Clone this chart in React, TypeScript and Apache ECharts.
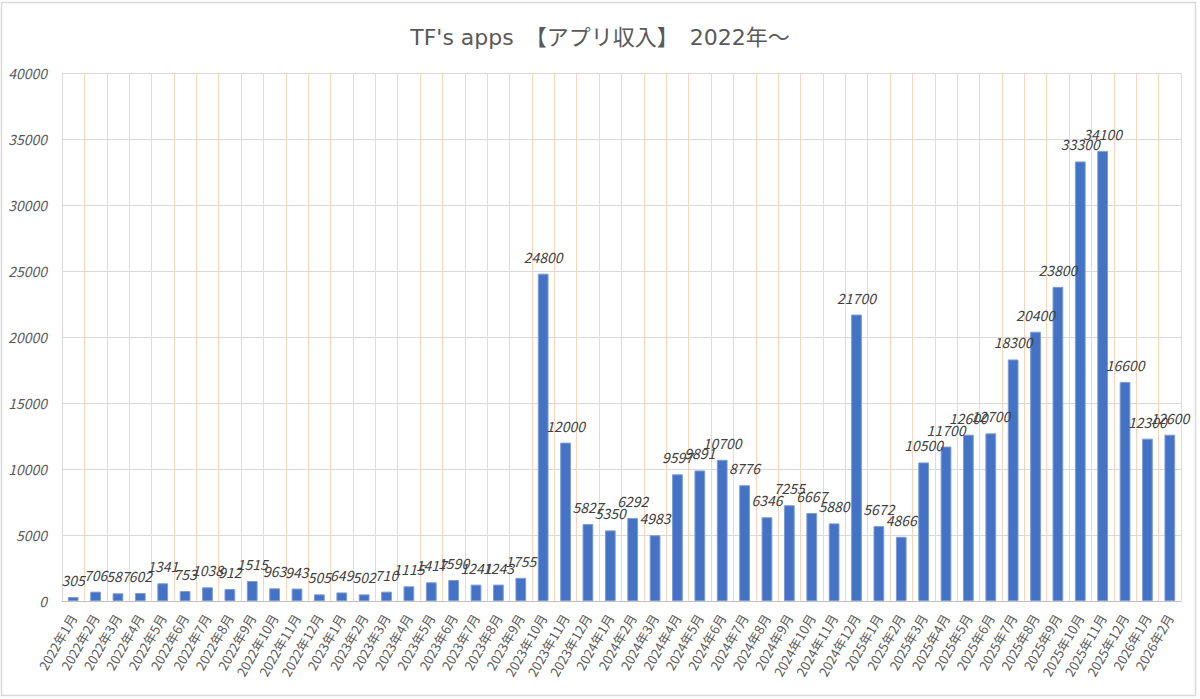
import React, { useEffect, useRef } from "react";
import * as echarts from "echarts";

const months: string[] = [
  "2022年1月", "2022年2月", "2022年3月", "2022年4月", "2022年5月", "2022年6月",
  "2022年7月", "2022年8月", "2022年9月", "2022年10月", "2022年11月", "2022年12月",
  "2023年1月", "2023年2月", "2023年3月", "2023年4月", "2023年5月", "2023年6月",
  "2023年7月", "2023年8月", "2023年9月", "2023年10月", "2023年11月", "2023年12月",
  "2024年1月", "2024年2月", "2024年3月", "2024年4月", "2024年5月", "2024年6月",
  "2024年7月", "2024年8月", "2024年9月", "2024年10月", "2024年11月", "2024年12月",
  "2025年1月", "2025年2月", "2025年3月", "2025年4月", "2025年5月", "2025年6月",
  "2025年7月", "2025年8月", "2025年9月", "2025年10月", "2025年11月", "2025年12月",
  "2026年1月", "2026年2月",
];

const revenue: number[] = [
  305, 706, 587, 602, 1341, 753, 1038, 912, 1515, 963, 943, 505,
  649, 502, 710, 1115, 1417, 1590, 1241, 1243, 1755, 24800, 12000, 5827,
  5350, 6292, 4983, 9597, 9891, 10700, 8776, 6346, 7255, 6667, 5880, 21700,
  5672, 4866, 10500, 11700, 12600, 12700, 18300, 20400, 23800, 33300, 34100, 16600,
  12300, 12600,
];

const titleText = "TF's apps　【アプリ収入】　2022年〜";
const yMax = 40000;
const yStep = 5000;

const FONT = "'Noto Sans CJK JP', 'Noto Sans', sans-serif";
const TITLE_FONT = "'DejaVu Sans', 'Noto Sans CJK JP', sans-serif";

export default function App() {
  const ref = useRef<HTMLDivElement>(null);
  useEffect(() => {
    if (!ref.current) return;
    const chart = echarts.init(ref.current, undefined, { renderer: "svg" });
    chart.setOption({
      animation: false,
      backgroundColor: "#ffffff",
      textStyle: { fontFamily: FONT },
      title: {
        text: titleText,
        left: "center",
        top: 21,
        textStyle: {
          fontFamily: TITLE_FONT,
          fontSize: 22,
          fontWeight: "normal",
          color: "#595959",
        },
      },
      graphic: [
        {
          type: "rect",
          shape: { x: 1.5, y: 2.5, width: 1194, height: 693 },
          style: { fill: "none", stroke: "#d9d9d9", lineWidth: 1.5 },
          silent: true,
          z: -1,
        },
      ],
      grid: { left: 62, right: 19, top: 73, bottom: 98, containLabel: false },
      xAxis: {
        type: "category",
        data: months,
        boundaryGap: true,
        axisLine: { show: true, lineStyle: { color: "#bfbfbf", width: 1 } },
        axisTick: { show: false },
        splitLine: {
          show: true,
          interval: 0,
          lineStyle: { color: "#f9d3ba", width: 1 },
        },
        axisLabel: {
          interval: 0,
          rotate: 60,
          margin: 14,
          fontSize: 13,
          color: "#595959",
          fontFamily: FONT,
        },
      },
      yAxis: {
        type: "value",
        min: 0,
        max: yMax,
        interval: yStep,
        axisLine: { show: true, lineStyle: { color: "#d9d9d9", width: 1 } },
        axisTick: { show: false },
        splitLine: { show: true, lineStyle: { color: "#d9d9d9", width: 1 } },
        axisLabel: {
          margin: 15,
          fontSize: 14,
          fontStyle: "italic",
          color: "#595959",
          fontFamily: FONT,
          formatter: (v: number) => String(v),
        },
      },
      series: [
        {
          type: "bar",
          data: revenue,
          barWidth: "48%",
          itemStyle: {
            color: "#4472c4",
            borderColor: "#7f9bd6",
            borderWidth: 1,
          },
          label: {
            show: true,
            position: "top",
            distance: 10,
            fontSize: 14,
            fontStyle: "italic",
            color: "#404040",
            fontFamily: FONT,
          },
        },
      ],
    });
    return () => chart.dispose();
  }, []);
  return (
    <div
      ref={ref}
      style={{ position: "fixed", left: 0, top: 0, width: 1200, height: 699 }}
    />
  );
}
